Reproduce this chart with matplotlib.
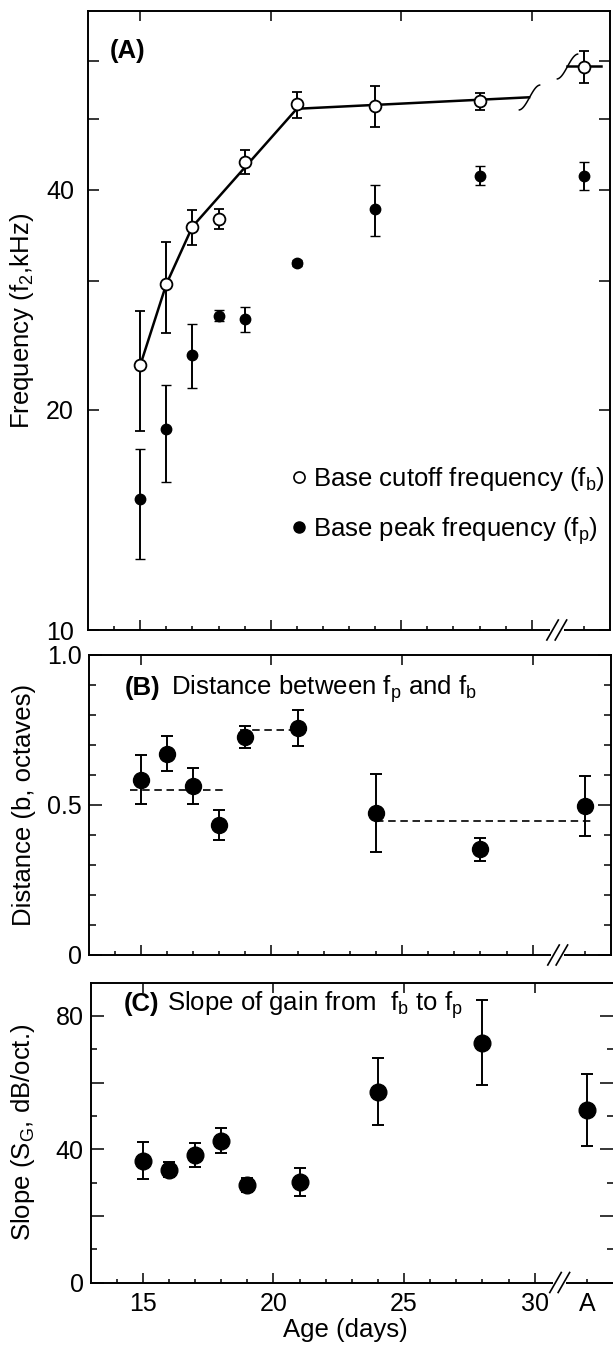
import numpy as np
import matplotlib
matplotlib.use("Agg")
import matplotlib.pyplot as plt
from matplotlib.path import Path
from matplotlib.lines import Line2D
from matplotlib.ticker import NullLocator

plt.rcParams['font.family'] = ['Liberation Sans', 'DejaVu Sans']
plt.rcParams['mathtext.fontset'] = 'custom'
plt.rcParams['mathtext.rm'] = 'Liberation Sans'
plt.rcParams['mathtext.it'] = 'Liberation Sans:italic'
plt.rcParams['mathtext.bf'] = 'Liberation Sans:bold'
plt.rcParams['mathtext.default'] = 'regular'

# ---------------- data ----------------
ages = [15, 16, 17, 18, 19, 21, 24, 28, 32]          # 32 = adult ("A")

fb = [23.0, 29.7, 35.6, 36.5, 43.7, 52.3, 52.1, 52.8, 58.9]
fb_err = [4.3, 4.2, 1.95, 1.15, 1.65, 2.1, 3.4, 1.35, 3.0]
fp = [15.1, 18.8, 23.8, 26.9, 26.6, 31.8, 37.6, 41.8, 41.8]
fp_err = [2.6, 2.85, 2.4, 0.45, 1.05, 0.3, 3.05, 1.25, 1.9]

fit_x = [15, 16, 17, 21, 29.9]
fit_y = [23.0, 29.7, 35.6, 51.6, 53.5]
fit_adult_x = [31.35, 32.65]
fit_adult_y = [59.0, 59.0]

dist = [0.585, 0.671, 0.5625, 0.435, 0.7265, 0.756, 0.474, 0.352, 0.498]
dist_err = [0.082, 0.058, 0.06, 0.05, 0.038, 0.06, 0.129, 0.039, 0.1]
group_start = [14.6, 18.8, 24.0]
group_end = [18.2, 21.35, 32.4]
group_mean = [0.551, 0.751, 0.446]

slope = [36.6, 33.9, 38.3, 42.6, 29.4, 30.1, 57.3, 72.0, 51.8]
slope_err = [5.5, 2.25, 3.6, 3.75, 2.1, 4.25, 10.0, 12.85, 10.7]

major_days = [15, 20, 25, 30]
major_labels = ['15', '20', '25', '30']
minor_days = [14, 16, 17, 18, 19, 21, 22, 23, 24, 26, 27, 28, 29, 32]
minor_labels = ['' if d != 32 else 'A' for d in minor_days]
x_break = [30.8, 31.12]

freq_ticks = [10, 20, 30, 40, 50, 60]
freq_labels = ['10', '20', '', '40', '', '']

# ---------------- figure ----------------
W, H = 613, 1350
fig = plt.figure(figsize=(W / 100, H / 100), dpi=100)


def axes_px(left, right, top, bottom):
    return fig.add_axes([left / W, 1 - bottom / H, (right - left) / W, (bottom - top) / H])


ax_a = axes_px(88, 610, 11, 630)
ax_b = axes_px(88.5, 611, 655, 955)
ax_c = axes_px(90.5, 613, 982.5, 1282.5)

FS = 18.5
TFS = 18
LW = 1.4

for ax in (ax_a, ax_b, ax_c):
    for sp in ax.spines.values():
        sp.set_linewidth(LW)
    ax.set_xlim(13, 33)
    ax.set_xticks(major_days)
    ax.set_xticks(minor_days, minor=True)
    ax.tick_params(axis='x', which='major', direction='in', length=7, width=1.1,
                   top=True, bottom=True, labelsize=TFS, pad=7)
    ax.tick_params(axis='x', which='minor', direction='in', length=3, width=1.1,
                   top=False, bottom=True, labelsize=TFS, pad=7)
    ax.tick_params(axis='y', which='both', direction='in', width=1.1,
                   left=True, right=True, labelsize=TFS)


def add_break(ax, height_px):
    tr = ax.get_xaxis_transform()
    dy = 10.0 / height_px
    ax.plot([x_break[0] - 0.1, x_break[1] + 0.1], [0, 0], color='white', lw=3.2,
            transform=tr, clip_on=False, zorder=6, solid_capstyle='butt')
    for xc in x_break:
        ax.plot([xc - 0.22, xc + 0.22], [-dy, dy], color='k', lw=1.2,
                transform=tr, clip_on=False, zorder=7)


# break "integral" marker for the fitted line
t = np.linspace(0, 1, 40)
sig_path = Path(np.column_stack([-1 + 2 * t, -1.15 * np.cos(np.pi * t)]))

# ---------------- Panel A ----------------
ax_a.set_yscale('log')
ax_a.set_ylim(10, 70.2)
ax_a.set_yticks(freq_ticks)
ax_a.set_yticklabels(freq_labels)
ax_a.yaxis.set_minor_locator(NullLocator())
ax_a.tick_params(axis='y', which='major', length=8, pad=10)
ax_a.tick_params(axis='x', labelbottom=False)

ax_a.plot(fit_x, fit_y, color='k', lw=1.8, zorder=2)
ax_a.plot(fit_adult_x, fit_adult_y, color='k', lw=1.8, zorder=2)
ax_a.plot([fit_x[-1]], [fit_y[-1]], marker=sig_path, ms=18, mfc='none', mec='k',
          mew=1.1, ls='none', zorder=2)
ax_a.plot([fit_adult_x[0]], [fit_adult_y[0]], marker=sig_path, ms=18, mfc='none',
          mec='k', mew=1.1, ls='none', zorder=2)

ax_a.errorbar(ages, fb, yerr=fb_err, fmt='o', ms=8.5, mfc='white', mec='k', mew=1.3,
              ecolor='k', elinewidth=1.4, capsize=3.6, capthick=1.4, zorder=3)
ax_a.errorbar(ages, fp, yerr=fp_err, fmt='o', ms=7.5, mfc='k', mec='k', mew=1.0,
              ecolor='k', elinewidth=1.4, capsize=3.6, capthick=1.4, zorder=3)

ax_a.set_ylabel('Frequency (f$_{2}$,kHz)', fontsize=FS)
ax_a.yaxis.set_label_coords(-0.100, 0.5)
ax_a.text(0.042, 0.924, '(A)', transform=ax_a.transAxes, fontsize=FS,
          fontweight='bold', va='baseline', ha='left')

handles = [
    Line2D([], [], marker='o', ls='none', ms=8, mfc='white', mec='k', mew=1.2),
    Line2D([], [], marker='o', ls='none', ms=8, mfc='k', mec='k'),
]
ax_a.legend(handles, ['Base cutoff frequency (f$_{b}$)', 'Base peak frequency (f$_{p}$)'],
            loc='center left', bbox_to_anchor=(0.39, 0.2005), frameon=False,
            fontsize=FS, handlelength=0.6, handletextpad=0.25, labelspacing=0.85,
            borderpad=0, borderaxespad=0)
add_break(ax_a, 619)

# ---------------- Panel B ----------------
ax_b.set_ylim(0, 1.0)
ax_b.set_yticks([0, 0.5, 1.0])
ax_b.set_yticklabels(['0', '0.5', '1.0'])
ax_b.set_yticks(np.arange(0.1, 1.0, 0.1), minor=True)
ax_b.tick_params(axis='y', which='major', length=9.5, pad=5)
ax_b.tick_params(axis='y', which='minor', length=5)
ax_b.tick_params(axis='x', labelbottom=False)

for x0, x1, m in zip(group_start, group_end, group_mean):
    ax_b.plot([x0, x1], [m, m], color='k', lw=1.2, ls=(0, (4.5, 2.8)), zorder=2)
ax_b.errorbar(ages, dist, yerr=dist_err, fmt='o', ms=11.5, mfc='k', mec='k',
              ecolor='k', elinewidth=1.4, capsize=4.5, capthick=1.4, zorder=3)
ax_b.set_ylabel('Distance (b, octaves)', fontsize=FS)
ax_b.yaxis.set_label_coords(-0.100, 0.5)
ax_b.text(0.0699, 0.867, '(B)', transform=ax_b.transAxes, fontsize=FS,
          fontweight='bold', va='baseline', ha='left')
ax_b.text(0.158, 0.867, 'Distance between f$_{p}$ and f$_{b}$', transform=ax_b.transAxes,
          fontsize=FS, va='baseline', ha='left')
add_break(ax_b, 300)

# ---------------- Panel C ----------------
ax_c.set_ylim(0, 90)
ax_c.set_yticks([0, 20, 40, 60, 80])
ax_c.set_yticklabels(['0', '', '40', '', '80'])
ax_c.set_yticks([10, 30, 50, 70], minor=True)
ax_c.tick_params(axis='y', which='major', length=9.5, pad=5)
ax_c.tick_params(axis='y', which='minor', length=4.5)
ax_c.set_xticklabels(major_labels)
ax_c.set_xticklabels(minor_labels, minor=True)
ax_c.spines['right'].set_visible(False)

ax_c.errorbar(ages, slope, yerr=slope_err, fmt='o', ms=12, mfc='k', mec='k',
              ecolor='k', elinewidth=1.4, capsize=4.5, capthick=1.4, zorder=3)
ax_c.set_ylabel('Slope (S$_{G}$, dB/oct.)', fontsize=FS)
ax_c.yaxis.set_label_coords(-0.102, 0.5)
ax_c.set_xlabel('Age (days)', fontsize=FS)
ax_c.xaxis.set_label_coords(0.487, -0.118)
ax_c.text(0.063, 0.905, '(C)', transform=ax_c.transAxes, fontsize=FS,
          fontweight='bold', va='baseline', ha='left')
ax_c.text(0.147, 0.905, 'Slope of gain from  f$_{b}$ to f$_{p}$', transform=ax_c.transAxes,
          fontsize=FS, va='baseline', ha='left')
add_break(ax_c, 300)

fig.savefig('out.png', dpi=100)
